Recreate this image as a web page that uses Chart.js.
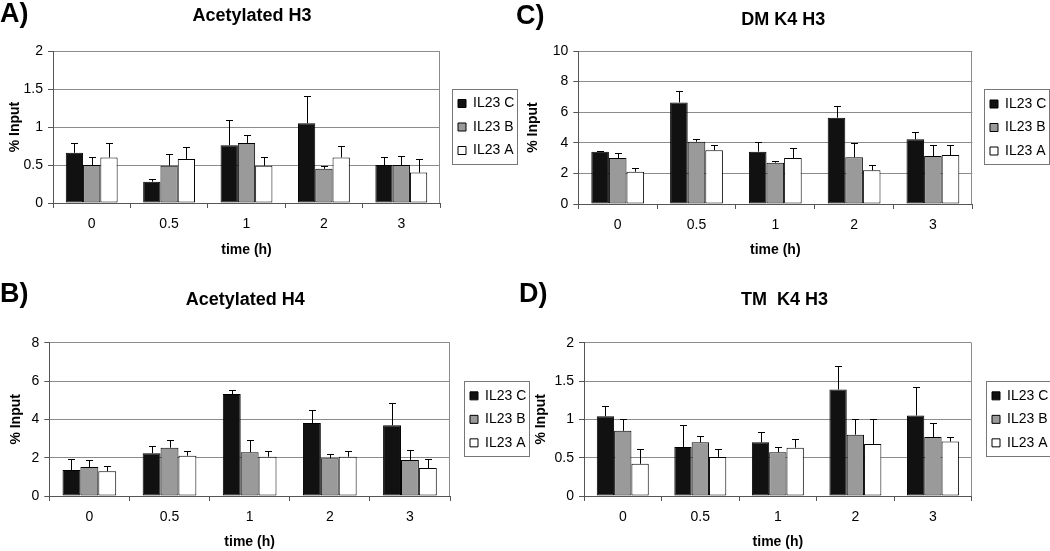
<!DOCTYPE html>
<html><head><meta charset="utf-8">
<script src="https://cdn.jsdelivr.net/npm/chart.js@4/dist/chart.umd.min.js"></script>
<style>
html,body{margin:0;padding:0;background:#fff}
body{width:1050px;height:551px;position:relative;overflow:hidden;font-family:'Liberation Sans',Arial,sans-serif}
canvas{position:absolute}
.lbl{position:absolute;font-weight:bold;font-size:27px;line-height:27px;font-family:'Liberation Sans',Arial,sans-serif;color:#000}
</style></head>
<body>
<canvas id="cA" width="530" height="275" style="left:0;top:0"></canvas>
<canvas id="cC" width="525" height="275" style="left:525px;top:0"></canvas>
<canvas id="cB" width="530" height="276" style="left:0;top:275px"></canvas>
<canvas id="cD" width="525" height="276" style="left:525px;top:275px"></canvas>
<div class="lbl" style="left:0;top:-0.5px">A)</div>
<div class="lbl" style="left:516px;top:2px">C)</div>
<div class="lbl" style="left:0;top:279.5px">B)</div>
<div class="lbl" style="left:519px;top:279.5px">D)</div>
<script>
// ---------- data ----------
const timeLabels = ['0', '0.5', '1', '2', '3'];
const seriesNames = ['IL23 C', 'IL23 B', 'IL23 A'];

// A) Acetylated H3
const acH3Title = 'Acetylated H3';
const acH3Ticks = [0, 0.5, 1, 1.5, 2];
const acH3C = [0.66, 0.28, 0.76, 1.05, 0.50];
const acH3B = [0.50, 0.49, 0.79, 0.45, 0.50];
const acH3A = [0.60, 0.58, 0.49, 0.60, 0.40];
const acH3CErr = [0.13, 0.03, 0.33, 0.36, 0.10];
const acH3BErr = [0.11, 0.16, 0.11, 0.04, 0.12];
const acH3AErr = [0.19, 0.16, 0.11, 0.15, 0.18];

// C) DM K4 H3
const dmK4Title = 'DM K4 H3';
const dmK4Ticks = [0, 2, 4, 6, 8, 10];
const dmK4C = [3.42, 6.64, 3.42, 5.64, 4.23];
const dmK4B = [3.00, 4.07, 2.70, 3.05, 3.14];
const dmK4A = [2.11, 3.51, 3.00, 2.20, 3.20];
const dmK4CErr = [0.07, 0.75, 0.65, 0.77, 0.50];
const dmK4BErr = [0.36, 0.16, 0.13, 0.95, 0.72];
const dmK4AErr = [0.22, 0.35, 0.64, 0.33, 0.66];

// B) Acetylated H4
const acH4Title = 'Acetylated H4';
const acH4Ticks = [0, 2, 4, 6, 8];
const acH4C = [1.36, 2.23, 5.32, 3.81, 3.69];
const acH4B = [1.51, 2.52, 2.28, 1.97, 1.88];
const acH4A = [1.29, 2.10, 2.05, 2.05, 1.46];
const acH4CErr = [0.59, 0.40, 0.23, 0.69, 1.18];
const acH4BErr = [0.37, 0.40, 0.64, 0.22, 0.54];
const acH4AErr = [0.29, 0.23, 0.28, 0.28, 0.49];

// D) TM K4 H3
const tmK4Title = 'TM  K4 H3';
const tmK4Ticks = [0, 0.5, 1, 1.5, 2];
const tmK4C = [1.04, 0.64, 0.70, 1.39, 1.05];
const tmK4B = [0.85, 0.70, 0.57, 0.80, 0.77];
const tmK4A = [0.42, 0.51, 0.63, 0.68, 0.71];
const tmK4CErr = [0.14, 0.29, 0.13, 0.31, 0.37];
const tmK4BErr = [0.15, 0.08, 0.07, 0.20, 0.18];
const tmK4AErr = [0.19, 0.10, 0.11, 0.32, 0.06];

const xTitle = 'time (h)';
const yTitle = '% Input';

// ---------- styling ----------
const FONT = "'Liberation Sans', Arial, sans-serif";
Chart.defaults.font.family = FONT;
Chart.defaults.color = '#000';
const barColors = ['#111111', '#9a9a9a', '#ffffff'];
const GRID = '#8c8c8c';
const AXIS = '#555555';

// ---------- plugins ----------
const placer = {
  id: 'placer',
  afterLayout(chart, args, opts) {
    const t = chart.titleBlock;
    if (t) { t.left = opts.titleX - 200; t.right = opts.titleX + 200; t.width = 400; }
    const lg = chart.legend;
    if (lg) {
      const pad = lg.options.labels.padding;
      const w = lg.width;
      lg.left = opts.swatchX - pad;
      lg.right = lg.left + w;
    }
  }
};

const errorBars = {
  id: 'errorBars',
  afterDatasetsDraw(chart) {
    const ctx = chart.ctx, y = chart.scales.y;
    ctx.save();
    ctx.strokeStyle = '#000';
    ctx.lineWidth = 1;
    chart.data.datasets.forEach((ds, i) => {
      const meta = chart.getDatasetMeta(i);
      meta.data.forEach((bar, j) => {
        const top = Math.round(y.getPixelForValue(ds.data[j] + ds.errors[j])) + 0.5;
        const x = Math.round(bar.x) + 0.5;
        ctx.beginPath();
        ctx.moveTo(x, bar.y);
        ctx.lineTo(x, top);
        ctx.moveTo(x - 3.5, top);
        ctx.lineTo(x + 3.5, top);
        ctx.stroke();
      });
    });
    ctx.restore();
  }
};

const frames = {
  id: 'frames',
  beforeDatasetsDraw(chart) {
    const ctx = chart.ctx, a = chart.chartArea;
    ctx.save();
    ctx.strokeStyle = GRID;
    ctx.lineWidth = 1;
    const r = Math.round(a.right) - 0.5;
    ctx.beginPath();
    ctx.moveTo(r, Math.round(a.top));
    ctx.lineTo(r, Math.round(a.bottom));
    ctx.stroke();
    ctx.restore();
  },
  afterDraw(chart) {
    const lg = chart.legend;
    if (!lg || !lg.legendHitBoxes || !lg.legendHitBoxes.length) return;
    const hb = lg.legendHitBoxes;
    let l = Infinity, r = -Infinity, t = Infinity, b = -Infinity;
    hb.forEach(h => {
      l = Math.min(l, h.left); r = Math.max(r, h.left + h.width);
      t = Math.min(t, h.top); b = Math.max(b, h.top + h.height);
    });
    const ctx = chart.ctx;
    ctx.save();
    ctx.strokeStyle = '#777';
    ctx.lineWidth = 1;
    const x0 = Math.round(l - 6) + 0.5, x1 = Math.round(r + 3) + 0.5;
    const y0 = Math.round(t - 8) + 0.5, y1 = Math.round(b + 6) + 0.5;
    ctx.strokeRect(x0, y0, x1 - x0, y1 - y0);
    ctx.restore();
  }
};

function buildChart(id, title, ticks, values, errors, lay) {
  const canvas = document.getElementById(id);
  const datasets = seriesNames.map((name, k) => ({
    label: name,
    data: values[k],
    errors: errors[k],
    backgroundColor: barColors[k],
    borderColor: '#000',
    borderWidth: 1,
    borderSkipped: false,
    categoryPercentage: 0.67,
    barPercentage: 1.0
  }));
  const chart = new Chart(canvas, {
    type: 'bar',
    data: { labels: timeLabels, datasets },
    plugins: [placer, frames, errorBars],
    options: {
      responsive: false,
      animation: false,
      devicePixelRatio: 1,
      layout: { padding: { left: 0, right: 60, top: 0, bottom: 0 } },
      plugins: {
        placer: { titleX: lay.titleX, swatchX: lay.swatchX },
        tooltip: { enabled: false },
        title: {
          display: true, text: title,
          font: { size: 18, weight: 'bold', family: FONT },
          color: '#000',
          padding: { top: lay.titleTop, bottom: lay.titleBottom }
        },
        legend: {
          position: 'right', fullSize: false, align: 'center',
          labels: {
            boxWidth: 8, boxHeight: 8, padding: 9.5, color: '#000',
            font: { size: 14, family: FONT }
          }
        }
      },
      scales: {
        x: {
          offset: true,
          grid: { offset: true, drawOnChartArea: false, drawTicks: true, tickLength: 5, color: AXIS },
          border: { display: true, color: AXIS },
          ticks: { padding: 7.8, font: { size: 14, family: FONT }, color: '#000' },
          title: { display: true, text: xTitle, font: { size: 14, weight: 'bold', family: FONT }, color: '#000',
                   padding: { top: 0, bottom: lay.xTitleBottom } },
          afterFit(s) { s.height = lay.xH; }
        },
        y: {
          min: ticks[0], max: ticks[ticks.length - 1],
          ticks: { stepSize: ticks[1] - ticks[0], padding: 5, font: { size: 14, family: FONT }, color: '#000',
                   callback: (v) => String(Math.round(v * 100) / 100) },
          grid: { color: GRID, tickColor: AXIS, tickLength: 5, drawTicks: true },
          border: { display: true, color: AXIS },
          title: { display: true, text: yTitle, font: { size: 14, weight: 'bold', family: FONT }, color: '#000',
                   padding: { top: lay.yTitleTop, bottom: 0 } },
          afterFit(s) { s.width = lay.yW; }
        }
      }
    }
  });
  // second pass: place the plot's right edge using the legend's measured width
  const lw = chart.legend.width;
  chart.options.layout.padding.right = canvas.width - lw - lay.plotRight;
  chart.update();
  return chart;
}

buildChart('cA', acH3Title, acH3Ticks, [acH3C, acH3B, acH3A], [acH3CErr, acH3BErr, acH3AErr],
  { plotRight: 440, titleX: 252, swatchX: 458, titleTop: 5.5, titleBottom: 23.9, xH: 72, xTitleBottom: 16.6, yW: 53, yTitleTop: 6.6 });
buildChart('cC', dmK4Title, dmK4Ticks, [dmK4C, dmK4B, dmK4A], [dmK4CErr, dmK4BErr, dmK4AErr],
  { plotRight: 447.3, titleX: 258.3, swatchX: 465, titleTop: 9, titleBottom: 20.4, xH: 71, xTitleBottom: 16.1, yW: 53.3, yTitleTop: 0.1 });
buildChart('cB', acH4Title, acH4Ticks, [acH4C, acH4B, acH4A], [acH4CErr, acH4BErr, acH4AErr],
  { plotRight: 450, titleX: 245.3, swatchX: 470, titleTop: 14.2, titleBottom: 31.9, xH: 55, xTitleBottom: 0, yW: 49.3, yTitleTop: 7.6 });
buildChart('cD', tmK4Title, tmK4Ticks, [tmK4C, tmK4B, tmK4A], [tmK4CErr, tmK4BErr, tmK4AErr],
  { plotRight: 446.7, titleX: 259.5, swatchX: 467, titleTop: 14.2, titleBottom: 31.9, xH: 55, xTitleBottom: 0, yW: 59, yTitleTop: 7.6 });
</script>
</body></html>
